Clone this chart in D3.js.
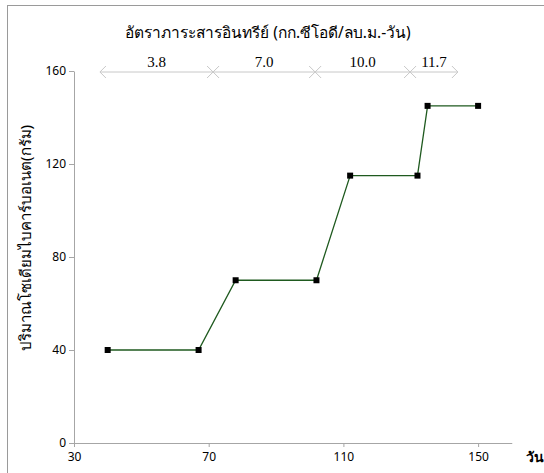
<!DOCTYPE html>
<html>
<head>
<meta charset="utf-8">
<script src="https://cdn.jsdelivr.net/npm/d3@7"></script>
<style>
  body { margin: 0; background: #fff; }
  text { font-family: Tahoma, "Noto Sans", "DejaVu Sans", sans-serif; }
</style>
</head>
<body>
<svg id="chart"></svg>
<script>
// Data
const days = [40, 67, 78, 102, 112, 132, 135, 150];
const bicarb = [40, 40, 70, 70, 115, 115, 145, 145];
const xTicks = [30, 70, 110, 150];
const yTicks = [0, 40, 80, 120, 160];
// organic loading rate periods (bounds in days) and their labels
const periodBounds = [37.7, 71.3, 101.6, 129.8, 144];
const periodLabels = ["3.8", "7.0", "10.0", "11.7"];

const width = 544, height = 473;
const margin = { left: 74, right: 31, top: 71, bottom: 30 };

const svg = d3.select("#chart")
  .attr("width", width)
  .attr("height", height);

// outer frame (cut off at right/bottom like the reference)
svg.append("rect")
  .attr("x", 7.5).attr("y", 5.5)
  .attr("width", width).attr("height", height)
  .attr("fill", "none")
  .attr("stroke", "#9a9a9a");

const x = d3.scaleLinear().domain([30, 160]).range([margin.left, margin.left + 130 * 3.3675]);
const y = d3.scaleLinear().domain([0, 160]).range([443, 443 - 160 * 2.325]);

// x axis
const xAxis = svg.append("g")
  .attr("transform", `translate(0,${y(0)})`)
  .call(d3.axisBottom(x).tickValues(xTicks).tickSize(4).tickSizeOuter(0));
xAxis.select(".domain").attr("stroke", "#a6a6a6");
xAxis.selectAll(".tick line").attr("stroke", "#a6a6a6");
xAxis.selectAll(".tick text").attr("font-size", 12).attr("fill", "#000").attr("dy", "0.95em");

// y axis
const yAxis = svg.append("g")
  .attr("transform", `translate(${x(30)},0)`)
  .call(d3.axisLeft(y).tickValues(yTicks).tickSize(5).tickSizeOuter(0));
yAxis.select(".domain").attr("stroke", "#a6a6a6");
yAxis.selectAll(".tick line").attr("stroke", "#a6a6a6");
yAxis.selectAll(".tick text").attr("font-size", 12).attr("fill", "#000").attr("x", -8);

// step line
const pts = days.map((d, i) => [d, bicarb[i]]);
svg.append("path")
  .datum(pts)
  .attr("fill", "none")
  .attr("stroke", "#1f5a1f")
  .attr("stroke-width", 1.3)
  .attr("d", d3.line().x(d => x(d[0])).y(d => y(d[1])));

svg.selectAll(".pt")
  .data(pts)
  .enter().append("rect")
  .attr("class", "pt")
  .attr("x", d => x(d[0]) - 3)
  .attr("y", d => y(d[1]) - 3)
  .attr("width", 6).attr("height", 6)
  .attr("fill", "#000");

// period arrows
const arrowY = 72;
const periods = periodLabels.map((l, i) => ({ label: l, a: periodBounds[i], b: periodBounds[i + 1] }));
const pg = svg.selectAll(".period").data(periods).enter().append("g");
pg.append("line")
  .attr("x1", d => x(d.a)).attr("x2", d => x(d.b))
  .attr("y1", arrowY).attr("y2", arrowY)
  .attr("stroke", "#c8c8c8");
pg.append("path")
  .attr("d", d => `M${x(d.a) + 6},${arrowY - 6}L${x(d.a)},${arrowY}L${x(d.a) + 6},${arrowY + 6}` +
                  `M${x(d.b) - 6},${arrowY - 6}L${x(d.b)},${arrowY}L${x(d.b) - 6},${arrowY + 6}`)
  .attr("fill", "none")
  .attr("stroke", "#c8c8c8");
pg.append("text")
  .attr("x", d => (x(d.a) + x(d.b)) / 2)
  .attr("y", 67)
  .attr("text-anchor", "middle")
  .style("font-family", "'Liberation Serif', 'Times New Roman', serif")
  .attr("font-size", 15)
  .text(d => d.label);

// title
svg.append("text")
  .attr("x", 268).attr("y", 38)
  .attr("text-anchor", "middle")
  .attr("font-size", 15.5)
  .text("อัตราภาระสารอินทรีย์ (กก.ซีโอดี/ลบ.ม.-วัน)");

// y axis title
svg.append("text")
  .attr("transform", "translate(31,238) rotate(-90)")
  .attr("text-anchor", "middle")
  .attr("font-size", 15)
  .text("ปริมาณโซเดียมไบคาร์บอเนต(กรัม)");

// x axis title
svg.append("text")
  .attr("x", 526).attr("y", 462)
  .attr("font-size", 14)
  .attr("font-weight", "bold")
  .style("font-family", "'Liberation Serif', serif")
  .text("วัน");
</script>
</body>
</html>
